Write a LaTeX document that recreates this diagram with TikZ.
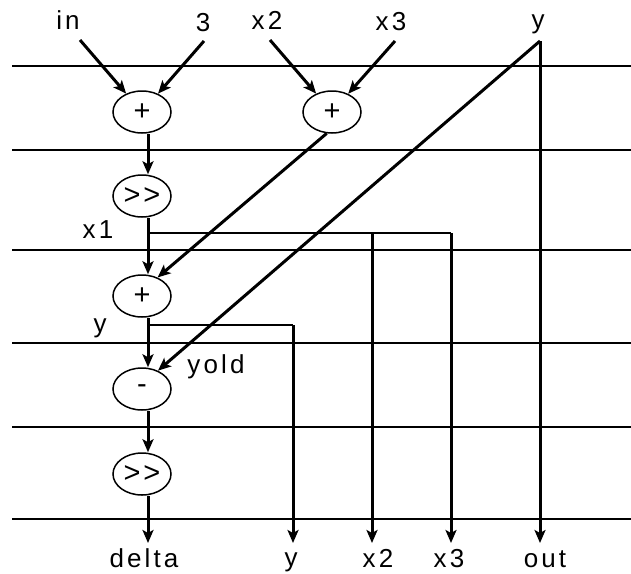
\documentclass[tikz,border=0pt]{standalone}
\usepackage{fontspec}
\setmainfont{Liberation Sans}[LetterSpace=12]
\usetikzlibrary{arrows.meta,shapes.geometric}
\begin{document}
\begin{tikzpicture}[x=1pt,y=-1pt,
  gridline/.style={line width=1.6pt},
  flow/.style={line width=3pt,-{Stealth[length=13pt,width=11pt,inset=3pt]}},
  thinbranch/.style={line width=1.2pt},
  midbranch/.style={line width=2.2pt},
  op/.style={draw,ellipse,line width=1.5pt,minimum width=58pt,minimum height=42pt,inner sep=0pt,font=\fontsize{29}{29}\selectfont},
  lbl/.style={font=\fontsize{26}{26}\selectfont,anchor=base,inner sep=0pt}]
\useasboundingbox (0,0) rectangle (631,573);
\foreach \yy in {66,150,250,343,427,519} \draw[gridline] (12,\yy) -- (631,\yy);

% operators
\node[op] (add1) at (142,112) {+};
\node[op] (add2) at (332,112) {+};
\node[op] (shr1) at (142,196) {>\kern3pt>};
\node[op] (add3) at (142,296) {+};
\node[op] (sub)  at (142,389) {-};
\node[op] (shr2) at (142,474) {>\kern3pt>};
\coordinate (col) at (148,0);

% top labels
\node[lbl] (lin) at (68,29) {in};
\node[lbl] (l3)  at (203,31) {3};
\node[lbl] (lx2) at (267,29) {x2};
\node[lbl] (lx3) at (391,30) {x3};
\node[lbl] (ly)  at (538,28) {y};

% start points
\coordinate (sIn) at (80,40);
\coordinate (s3)  at (204,41);
\coordinate (sx2) at (270,40);
\coordinate (sx3) at (395,41);
\coordinate (yTop) at (540,41);

% ends
\coordinate (oDelta) at (148,543);
\coordinate (oY)  at (293,543);
\coordinate (oX2) at (372,543);
\coordinate (oX3) at (451,543);
\coordinate (oOut) at (540,543);

% branch points
\coordinate (x1j) at (148,233);
\coordinate (x2t) at (372,233);
\coordinate (x3t) at (451,233);
\coordinate (yj) at (148,325);
\coordinate (yt) at (293,325);

\draw[flow] (sIn) -- (add1);
\draw[flow] (s3) -- (add1);
\draw[flow] (sx2) -- (add2);
\draw[flow] (sx3) -- (add2);

\draw[flow] (add1.south -| col) -- (shr1.north -| col);
\draw[flow] (shr1.south -| col) -- (add3.north -| col);
\draw[flow] (add3.south -| col) -- (sub.north -| col);
\draw[flow] (sub.south -| col) -- (shr2.north -| col);
\draw[flow] (shr2.south -| col) -- (oDelta);

\draw[thinbranch] (x1j) -- (x3t);
\draw[flow] (x2t) -- (oX2);
\draw[flow] (x3t) -- (oX3);

\draw[midbranch] (yj) -- (yt);
\draw[flow] (yt) -- (oY);

\draw[flow] (yTop) -- (oOut);
\draw[flow] (yTop) -- (sub.49);
\draw[flow] (add2.256) -- (add3.50);

% side labels
\node[lbl] (lx1) at (98,238) {x1};
\node[lbl] (lyy) at (100,332) {y};
\node[lbl] (lyold) at (216,373) {yold};

% bottom labels
\node[lbl] (bdelta) at (144,567) {delta};
\node[lbl] (by)  at (291,566) {y};
\node[lbl] (bx2) at (378,567) {x2};
\node[lbl] (bx3) at (449,567) {x3};
\node[lbl] (bout) at (545,567) {out};
\end{tikzpicture}
\end{document}
